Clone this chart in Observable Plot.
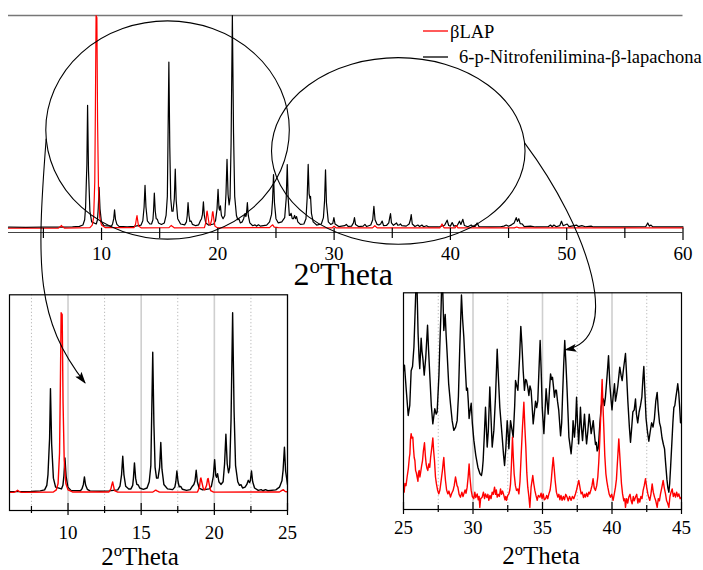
<!DOCTYPE html>
<html><head><meta charset="utf-8">
<script src="https://cdn.jsdelivr.net/npm/d3@7"></script>
<script src="https://cdn.jsdelivr.net/npm/@observablehq/plot@0.6"></script>
<style>
body{margin:0;background:#fff;}
#fig{position:relative;width:703px;height:570px;overflow:hidden;background:#fff;}
#fig svg, #fig svg text, #fig svg tspan { font-family: 'Liberation Serif', 'Times New Roman', Tinos, 'DejaVu Serif', serif !important; }
</style></head><body><div id="fig"></div>
<script>
// ---------- DATA ----------
const seriesNames = ["βLAP", "6-p-Nitrofenilimina-β-lapachona"];
const seriesColors = ["#ff0000", "#000000"];
const axisTitle = ["2", "o", "Theta"];

const mainTicks = [5,10,15,20,25,30,35,40,45,50,55,60];
const mainTickLabels = [10,20,30,40,50,60];
const leftTicks = [7.5,10,12.5,15,17.5,20,22.5,25];
const leftTickLabels = [10,15,20,25];
const rightTicks = [25,27.5,30,32.5,35,37.5,40,42.5,45];
const rightTickLabels = [25,30,35,40,45];

// full pattern, 6-p-Nitrofenilimina-β-lapachona (2θ, relative intensity %)
const blackMain = [
[2.0,0.5],[3.5,0.4],[5.0,0.5],[6.5,0.5],[7.5,0.6],[8.1,0.9],[8.4,1.5],[8.55,4],[8.63,10],[8.7,23],[8.74,30],[8.8,57.8],[8.88,27],[9.0,8],[9.15,3],
[9.55,2],[9.65,4],[9.72,9.5],[9.79,19.2],[9.87,9],[9.99,3],[10.2,1.2],
[10.85,1],[10.95,2],[11.05,4.5],[11.12,8.7],[11.2,4.2],[11.32,1.8],[11.5,0.9],[12.2,0.7],[12.8,0.9],
[13.4,1.5],[13.55,3.5],[13.66,10],[13.74,20.2],[13.82,10],[13.94,3.5],[14.15,2],
[14.3,2],[14.42,4],[14.47,8],[14.54,16.5],[14.62,8],[14.7,4.5],[14.8,4.2],[14.9,2.5],[15.15,1.8],
[15.4,2.5],[15.55,6],[15.66,15],[15.71,39],[15.79,78.1],[15.87,38],[15.95,14],[16.05,8],[16.15,8],[16.26,14],[16.34,27.8],[16.42,13],[16.55,4.5],[16.8,2],
[17.15,1.6],[17.3,3],[17.37,6],[17.44,12],[17.52,6],[17.6,3.2],[17.7,3.4],[17.82,1.8],[18.1,1.2],
[18.35,1.6],[18.5,3.5],[18.6,4.5],[18.68,6.5],[18.76,12.4],[18.84,6],[18.96,2.5],[19.2,1.5],
[19.65,2],[19.8,3.5],[19.93,9],[20.02,18.3],[20.1,9.5],[20.15,8.5],[20.22,10.5],[20.31,6],[20.45,4.5],[20.6,6],[20.7,16],[20.79,32.4],[20.88,16],[20.97,11],[21.05,14],[21.14,40],[21.25,100],[21.35,45],[21.45,15],[21.6,6],[21.72,4],[21.82,4.4],[21.93,2.5],
[22.1,3],[22.22,4.5],[22.32,6.8],[22.41,5.5],[22.46,6.5],[22.54,12],[22.62,6],[22.75,2.5],[23.0,1.2],[23.2,1.6],[23.32,1],[23.5,1.6],[23.65,1],[24.2,1.5],
[24.45,3],[24.62,6.5],[24.7,12.5],[24.79,25.2],[24.87,12],[25.0,4.5],[25.2,2.5],
[25.5,3],[25.75,5],[25.88,14],[25.97,29.9],[26.05,14],[26.15,6],[26.22,6],[26.3,7],[26.4,4.5],[26.5,4.5],[26.6,6],[26.68,4.5],[26.77,5.5],[26.88,3],[27.1,1.8],
[27.4,2],[27.58,4.5],[27.68,14],[27.77,30],[27.85,16],[27.92,14],[27.97,15],[28.05,7],[28.2,3],[28.5,1.5],
[28.9,2],[29.08,5],[29.18,13],[29.26,27.5],[29.34,12],[29.5,3],[29.7,1.8],[29.88,2.2],[29.98,5],[30.08,2],[30.4,0.8],
[30.9,1.2],[31.05,1.8],[31.2,0.9],[31.5,1],[31.66,2.5],[31.75,5],[31.84,1.8],[32.1,0.8],[32.5,1],[32.65,1.8],[32.8,0.8],
[33.15,1.5],[33.32,4],[33.42,10.3],[33.52,4],[33.7,1.8],[33.85,1.5],[34.0,2],[34.13,3.4],[34.25,1.2],[34.5,1.3],[34.7,2.5],[34.78,5],[34.85,6.9],[34.93,2.5],
[35.1,1.4],[35.25,2],[35.37,2.5],[35.47,1.4],[35.62,1.6],[35.7,2],[35.82,1.2],[36.2,1],[36.45,2],[36.56,4],[36.63,6.4],[36.72,2],[36.95,0.8],
[37.2,1.5],[37.35,0.8],[37.55,1.5],[37.7,0.7],[37.95,1.2],[38.15,0.6],[39.0,0.6],[39.5,1.4],[39.72,3.8],[39.85,1.3],[40.0,1],[40.15,2.7],[40.3,1],
[40.6,1.4],[40.78,3.3],[40.9,1.8],[41.07,4.2],[41.2,1.3],[41.5,0.7],[41.79,1.5],[41.95,0.7],[42.15,1],[42.3,2.5],[42.45,0.8],[43.5,0.6],
[44.3,0.7],[44.6,1],[44.8,1.5],[45.0,0.9],[45.25,1.6],[45.48,2.5],[45.66,5],[45.76,3.2],[45.88,4.5],[46.0,2.2],[46.17,2],[46.35,0.8],[46.9,1],[47.3,0.6],
[48.4,0.7],[48.6,1.5],[48.75,0.7],[48.9,1.5],[49.1,0.7],[49.4,1.2],[49.55,3.3],[49.7,1.2],[50.04,2],[50.2,0.8],[50.84,1.5],[51.0,0.8],[51.3,1.2],[51.6,0.7],
[52.1,1],[52.3,0.6],[54.0,0.7],[55.5,0.6],[56.8,0.8],[56.97,2.5],[57.1,1],[57.25,1.5],[57.4,0.6],[58.5,0.7],[60.0,0.6]
];

// full pattern, βLAP
const redMain = [
[2.0,0],[6.3,0.1],[6.48,0.8],[6.55,1.3],[6.62,0.8],[6.8,0.1],[9.0,0.3],[9.2,1.5],[9.32,5],[9.42,22],[9.47,55],[9.53,100],[9.6,99],[9.66,50],[9.74,18],[9.85,5],[10.0,1.5],[10.3,0.3],
[12.8,0.3],[12.93,2],[13.0,4.5],[13.05,5.9],[13.1,4],[13.18,1],[13.4,0.2],[15.8,0.3],[15.93,1],[16.0,1.3],[16.08,0.9],[16.25,0.2],
[18.85,0.3],[18.98,3],[19.05,7.5],[19.08,8.1],[19.14,6],[19.25,2],[19.35,1.5],[19.47,4],[19.54,7.5],[19.58,7.8],[19.64,5],[19.75,1],[19.95,0.2],
[24.45,0.3],[24.62,1.2],[24.72,1.6],[24.85,0.5],[25.2,0.3],[29.85,0.2],[30.0,0.9],[30.15,0.2],[33.3,0.2],[33.5,1.2],[33.7,0.2],
[39.1,0.2],[39.28,2],[39.45,0.2],[40.4,0.2],[40.52,1.2],[40.65,0.2],[45.5,0.2],[45.7,0.6],[45.9,0.2],[60.0,0.2]
];

// magnified 25–45° region (inset units 0–100)
const rightBlack = [
[25.0,64],[25.07,66.6],[25.2,55],[25.34,43.4],[25.45,48],[25.55,64],[25.65,66],[25.75,75],[25.86,96],[25.94,112],[26.0,95],[26.05,81],[26.12,70],[26.17,65],[26.27,79],[26.33,73],[26.39,70],[26.49,62],[26.6,70],[26.73,85],[26.8,74],[26.9,61],[27.0,48],[27.11,39.5],[27.25,46.5],[27.35,44],[27.42,45],[27.55,62],[27.61,75],[27.7,92],[27.78,112],[27.85,95],[27.9,82.6],[28.0,90],[28.07,80],[28.14,72],[28.25,58],[28.38,48.8],[28.5,41],[28.62,36.5],[28.75,38],[28.86,41],[28.95,52],[29.05,75],[29.17,99],[29.25,88],[29.34,79.5],[29.45,65],[29.53,55],[29.6,56],[29.66,50],[29.72,42],[29.8,46],[29.87,49],[29.95,40],[30.06,32],[30.2,25],[30.35,19.5],[30.5,16.5],[30.61,15.7],[30.67,18],[30.73,22.6],[30.82,35],[30.9,47.2],[30.96,38],[31.02,28.8],[31.1,36],[31.21,56.5],[31.28,45],[31.38,28.8],[31.5,36.5],[31.62,52],[31.74,74],[31.82,62],[31.93,47],[32.1,33.4],[32.2,25],[32.27,20.3],[32.36,28],[32.46,41],[32.52,36],[32.58,28],[32.7,41],[32.8,37],[32.89,33.4],[33.0,48],[33.06,59.5],[33.15,57],[33.23,55],[33.35,70],[33.44,84.5],[33.52,76],[33.61,64],[33.7,55],[33.78,60],[33.85,59.5],[33.95,56],[34.02,52.6],[34.1,57],[34.18,55],[34.25,48],[34.33,39.5],[34.42,45],[34.5,50],[34.58,47],[34.66,50],[34.75,65],[34.83,78],[34.9,65],[34.98,47],[35.1,35],[35.18,45],[35.26,55.7],[35.33,50],[35.41,44],[35.5,55],[35.58,62.6],[35.65,60],[35.72,61],[35.8,56],[35.86,51.8],[35.93,55],[36.0,55],[36.08,50],[36.17,45.7],[36.3,34],[36.38,40],[36.44,51.8],[36.52,66],[36.6,78],[36.68,68],[36.77,55],[36.85,42],[36.9,33.4],[37.06,25.7],[37.15,33],[37.2,41],[37.3,33.4],[37.38,40],[37.45,51.8],[37.52,40],[37.6,30.3],[37.68,40],[37.73,47.2],[37.8,38],[37.88,31.8],[37.95,38],[38.02,44],[38.1,36],[38.17,30.3],[38.26,36],[38.36,44],[38.43,40],[38.5,35],[38.58,38],[38.65,41],[38.73,35],[38.81,30],[38.87,31],[38.93,27],[39.0,28],[39.05,31.8],[39.13,40],[39.22,47.2],[39.3,50],[39.37,51],[39.45,48],[39.53,52],[39.65,62],[39.75,71],[39.84,58],[39.94,50],[40.0,46],[40.08,52],[40.18,58],[40.25,50],[40.33,53],[40.42,57],[40.5,62],[40.56,65.7],[40.65,62],[40.73,59.5],[40.85,66],[40.97,72],[41.05,62],[41.14,50],[41.25,38],[41.33,31],[41.42,38],[41.5,45],[41.6,46],[41.69,51],[41.76,44],[41.85,40],[41.95,45],[42.05,48],[42.15,52],[42.22,60],[42.29,66],[42.36,55],[42.45,42],[42.55,36],[42.65,31.5],[42.75,36],[42.85,40],[42.95,38],[43.05,42],[43.15,50],[43.25,54],[43.33,46],[43.42,40],[43.5,38],[43.6,33],[43.7,30],[43.78,28],[43.85,22],[43.95,14],[44.02,10],[44.09,8],[44.15,12],[44.22,20],[44.3,30],[44.38,40],[44.45,47],[44.52,48],[44.6,52],[44.67,55],[44.73,58],[44.8,54],[44.87,47],[44.93,40],[45.0,41]
];
const rightRed = [
[25.0,10.3],[25.05,8],[25.1,12],[25.18,11],[25.26,15],[25.35,19],[25.42,24],[25.46,25.7],[25.5,32],[25.55,35],[25.6,33],[25.67,33.4],[25.72,28],[25.77,24],[25.82,22.6],[25.87,18],[25.92,17],[25.98,15],[26.04,13],[26.08,17],[26.13,18],[26.18,15],[26.22,16.5],[26.3,20],[26.37,22.6],[26.43,27],[26.51,30.8],[26.57,25],[26.63,21],[26.69,19],[26.75,18],[26.82,21],[26.89,19.5],[26.95,24],[27.01,27.2],[27.06,30],[27.11,33],[27.17,27],[27.23,22.6],[27.3,15],[27.37,11.8],[27.45,9],[27.54,7.2],[27.62,9],[27.71,13.4],[27.8,18],[27.86,22],[27.9,24],[27.96,18],[28.02,13.4],[28.1,9],[28.19,7.2],[28.27,8.5],[28.38,5.7],[28.47,7.5],[28.57,8.8],[28.65,11],[28.74,15],[28.8,13],[28.85,11],[28.91,10.3],[29.0,7],[29.1,5.7],[29.2,8],[29.28,6],[29.34,7.2],[29.43,9],[29.5,7.5],[29.58,10.3],[29.65,15],[29.72,21],[29.78,15],[29.87,8.8],[29.95,6],[30.06,5],[30.13,8],[30.2,5.5],[30.3,7.2],[30.38,4.5],[30.44,6],[30.49,1],[30.55,5],[30.66,5.7],[30.75,8],[30.83,5],[30.9,7.2],[31.0,5.5],[31.07,7],[31.14,4.2],[31.22,6.5],[31.3,5],[31.38,8],[31.46,7],[31.55,10.3],[31.62,7],[31.68,9],[31.74,5.7],[31.82,7],[31.9,6],[31.98,9.5],[32.05,7],[32.13,8.5],[32.22,6.5],[32.3,4.5],[32.36,6],[32.41,4.2],[32.5,6.5],[32.58,7.2],[32.65,9],[32.7,11.8],[32.76,20],[32.84,33.4],[32.9,24],[32.96,16.5],[33.05,11],[33.13,8.8],[33.22,9.5],[33.3,7.2],[33.38,13],[33.47,25.7],[33.56,38],[33.66,49.5],[33.73,38],[33.8,28.8],[33.87,17],[33.94,10.3],[34.02,6],[34.09,1],[34.14,6],[34.18,10.3],[34.24,13],[34.3,15.7],[34.37,12],[34.45,8.8],[34.53,6.5],[34.62,4.2],[34.7,6.5],[34.81,5.7],[34.9,7.5],[34.97,5],[35.05,7.2],[35.13,4.5],[35.22,5],[35.3,6.5],[35.38,5],[35.46,7.2],[35.55,9],[35.63,13.4],[35.7,19],[35.77,24],[35.84,19],[35.91,13.4],[36.0,8],[36.1,5.7],[36.18,7],[36.25,4.5],[36.33,6.5],[36.41,4.2],[36.5,6],[36.58,4.5],[36.67,7],[36.77,5.7],[36.85,4],[36.95,6],[37.06,4.2],[37.15,6],[37.25,5],[37.37,7.2],[37.45,9],[37.52,11],[37.61,13.4],[37.7,10],[37.78,7.2],[37.86,8],[37.95,5.5],[38.03,7],[38.09,5.7],[38.17,7.5],[38.25,6],[38.33,8],[38.4,7.2],[38.48,9],[38.56,11],[38.64,14.2],[38.72,10],[38.81,8.8],[38.9,11],[38.98,15],[39.05,22],[39.12,31.8],[39.2,45],[39.29,60],[39.35,48],[39.41,38],[39.48,25],[39.56,16.5],[39.63,13],[39.7,10.3],[39.8,7],[39.89,5.7],[39.98,7],[40.08,4.2],[40.16,7],[40.25,10.3],[40.32,14],[40.37,19.5],[40.43,26],[40.49,32.6],[40.55,26],[40.61,19.5],[40.68,12],[40.76,7.2],[40.85,4],[40.92,5],[40.97,1],[41.05,5],[41.13,3],[41.21,5.7],[41.3,7],[41.38,4],[41.45,2.6],[41.53,6],[41.6,4],[41.69,5.7],[41.78,7],[41.86,3],[41.93,5],[42.0,3.4],[42.08,6],[42.16,5],[42.24,8.8],[42.32,11],[42.41,14.2],[42.5,10],[42.58,7.2],[42.65,5.5],[42.72,4.2],[42.8,7],[42.89,11.8],[42.97,8],[43.06,5.7],[43.15,4],[43.25,1],[43.33,5],[43.41,4],[43.49,7.2],[43.58,10],[43.68,13.4],[43.76,10],[43.85,7.2],[43.93,4],[44.0,3],[44.09,1],[44.17,6],[44.25,8],[44.33,9.5],[44.41,6],[44.49,7.5],[44.57,5.7],[44.65,8],[44.73,6],[44.81,7.2],[44.9,5],[45.0,5.7]
];

// highlighted zones on the full pattern: centre 2θ, centre intensity, half-widths
const zoneCx = [15.72, 35.56];
const zoneCy = [45.95, 36.1];
const zoneRx = [10.47, 10.9];
const zoneRy = [51.3, 43.85];
// arrow targets inside the insets (2θ, inset intensity)
const arrowTarget1 = [11.2, 60.7];
const arrowTarget2 = [36.68, 73.5];

// ---------- DRAWING ----------
const FONT = "'Liberation Serif', 'Times New Roman', Tinos, 'DejaVu Serif', serif";
const fig = document.getElementById("fig");
const X = d => d[0], Y = d => d[1];
const baseStyle = {fontFamily: FONT, fontSize: "19px", background: "transparent", color: "#000", overflow: "visible"};

function place(el, left, top) {
  el.style.position = "absolute"; el.style.left = left + "px"; el.style.top = top + "px"; el.style.margin = "0";
  fig.appendChild(el); return el;
}

// main panel
const mainPlot = Plot.plot({
  width: 703, height: 270, marginLeft: 8, marginRight: 20.5, marginTop: 15, marginBottom: 38,
  style: baseStyle,
  x: {domain: [2, 60], axis: null},
  y: {domain: [-2, 100], axis: null},
  marks: [
    Plot.ruleY([100], {stroke: "#777", strokeWidth: 1.4}),
    Plot.line(blackMain, {x: X, y: Y, stroke: seriesColors[1], strokeWidth: 1.2}),
    Plot.line(redMain, {x: X, y: Y, stroke: seriesColors[0], strokeWidth: 1.2}),
    Plot.ruleY([-2], {stroke: "#444", strokeWidth: 1.2}),
    Plot.ruleX(mainTicks, {x: d => d, y1: 0, y2: d => -2 - (d % 10 === 0 ? 8 : 6) / 2.1275, stroke: "#000", strokeWidth: 1.2}),
    Plot.axisX(mainTickLabels, {tickSize: 0, tickPadding: 13.5, label: null, fontSize: 19, fontFamily: FONT, tickFormat: d => String(d)})
  ]
});
place(mainPlot, 0, 0);

// left inset
const leftPlot = Plot.plot({
  width: 300, height: 270, marginLeft: 9, marginRight: 13, marginTop: 14.3, marginBottom: 40,
  style: baseStyle,
  x: {domain: [6, 25], axis: null},
  y: {domain: [-10, 110], axis: null},
  marks: [
    Plot.ruleX(leftTicks.filter(d => d % 5 === 0), {stroke: "#cfcfcf", strokeWidth: 1.6}),
    Plot.ruleX(leftTicks.filter(d => d % 5 !== 0), {stroke: "#a8a8a8", strokeDasharray: "1,2.5"}),
    Plot.line(blackMain, {x: X, y: Y, stroke: seriesColors[1], strokeWidth: 1.4, clip: true}),
    Plot.line(redMain, {x: X, y: Y, stroke: seriesColors[0], strokeWidth: 1.4, clip: true}),
    Plot.frame({stroke: "#000", strokeWidth: 1.2}),
    Plot.ruleX(leftTicks, {x: d => d, y1: d => -10 + (d % 5 === 0 ? 7 : 4) / 1.7975, y2: d => -10 - (d % 5 === 0 ? 5 : 3) / 1.7975, stroke: "#000", strokeWidth: 1.2}),
    Plot.axisX(leftTickLabels, {tickSize: 0, tickPadding: 15, label: null, fontSize: 19, fontFamily: FONT, tickFormat: d => String(d)})
  ]
});
place(leftPlot, 0, 280);

// right inset
const rightPlot = Plot.plot({
  width: 310, height: 270, marginLeft: 13, marginRight: 19, marginTop: 14.3, marginBottom: 39,
  style: baseStyle,
  x: {domain: [25, 45], axis: null},
  y: {domain: [0, 100], axis: null},
  marks: [
    Plot.ruleX(rightTicks.filter(d => d % 5 === 0 && d > 25 && d < 45), {stroke: "#cfcfcf", strokeWidth: 1.6}),
    Plot.ruleX(rightTicks.filter(d => d % 5 !== 0), {stroke: "#a8a8a8", strokeDasharray: "1,2.5"}),
    Plot.line(rightBlack, {x: X, y: Y, stroke: seriesColors[1], strokeWidth: 1.4, clip: true}),
    Plot.line(rightRed, {x: X, y: Y, stroke: seriesColors[0], strokeWidth: 1.4, clip: true}),
    Plot.frame({stroke: "#000", strokeWidth: 1.2}),
    Plot.ruleX(rightTicks, {x: d => d, y1: d => (d % 5 === 0 ? 7 : 4) / 2.167, y2: d => -(d % 5 === 0 ? 5 : 3) / 2.167, stroke: "#000", strokeWidth: 1.2}),
    Plot.axisX(rightTickLabels, {tickSize: 0, tickPadding: 11, label: null, fontSize: 19, fontFamily: FONT, tickFormat: d => String(d)})
  ]
});
place(rightPlot, 390, 278);

// overlay: zones, arrows, legend, axis titles
const ov = d3.select(fig).append("svg").attr("width", 703).attr("height", 570)
  .style("position", "absolute").style("left", "0px").style("top", "0px").style("pointer-events", "none")
  .attr("font-family", FONT);
const mX = v => mainPlot.scale("x").apply(v), mY = v => mainPlot.scale("y").apply(v);
const lX = v => leftPlot.scale("x").apply(v) + 0, lY = v => leftPlot.scale("y").apply(v) + 280;
const rX = v => rightPlot.scale("x").apply(v) + 390, rY = v => rightPlot.scale("y").apply(v) + 278;

ov.append("defs").append("marker").attr("id", "ah").attr("viewBox", "0 0 12 8")
  .attr("refX", 11).attr("refY", 4).attr("markerWidth", 12).attr("markerHeight", 8)
  .attr("markerUnits", "userSpaceOnUse").attr("orient", "auto")
  .append("path").attr("d", "M0,0 L12,4 L0,8 L2.5,4 Z").attr("fill", "#000");

const zones = zoneCx.map((cx, i) => {
  const x = mX(cx), y = mY(zoneCy[i]);
  return {cx: x, cy: y, rx: mX(cx + zoneRx[i]) - x, ry: mY(zoneCy[i] - zoneRy[i]) - y};
});
zones.forEach(z => ov.append("ellipse").attr("cx", z.cx).attr("cy", z.cy).attr("rx", z.rx).attr("ry", z.ry)
  .attr("fill", "none").attr("stroke", "#000").attr("stroke-width", 1.1));

// arrow 1: from left side of zone 1 down to left inset
{
  const z = zones[0], a = 0.08;
  const s = [z.cx - z.rx * Math.cos(a), z.cy + z.ry * Math.sin(a)];
  const e = [lX(arrowTarget1[0]), lY(arrowTarget1[1])];
  ov.append("path").attr("d", `M${s[0]},${s[1]} C${s[0]-10},${s[1]+130} ${e[0]-49},${e[1]-63} ${e[0]},${e[1]}`)
    .attr("fill", "none").attr("stroke", "#000").attr("stroke-width", 1.1).attr("marker-end", "url(#ah)");
}
// arrow 2: from right side of zone 2 down to right inset
{
  const z = zones[1], a = -0.086;
  const s = [z.cx + z.rx * Math.cos(a), z.cy + z.ry * Math.sin(a)];
  const e = [rX(arrowTarget2[0]), rY(arrowTarget2[1])];
  ov.append("path").attr("d", `M${s[0]},${s[1]} C${s[0]+65},${s[1]+87} ${e[0]+59},${e[1]-10} ${e[0]},${e[1]}`)
    .attr("fill", "none").attr("stroke", "#000").attr("stroke-width", 1.1).attr("marker-end", "url(#ah)");
}

// legend
const leg = [{y: 31, ty: 38, tx: 450}, {y: 57, ty: 63, tx: 459}];
seriesNames.forEach((name, i) => {
  ov.append("line").attr("x1", 423).attr("x2", 448).attr("y1", leg[i].y).attr("y2", leg[i].y)
    .attr("stroke", seriesColors[i]).attr("stroke-width", 1.3);
  ov.append("text").attr("x", leg[i].tx).attr("y", leg[i].ty).attr("font-size", 18.5).attr("font-family", FONT).attr("fill", "#000").text(name);
});

// axis titles 2°Theta
function title(x, y, size) {
  const t = ov.append("text").attr("x", x).attr("y", y).attr("text-anchor", "middle").attr("font-size", size)
    .attr("font-family", FONT).attr("fill", "#000");
  t.append("tspan").text(axisTitle[0]);
  t.append("tspan").attr("dy", -0.38 * size).attr("font-size", 0.66 * size).text(axisTitle[1]);
  t.append("tspan").attr("dy", 0.38 * size).text(axisTitle[2]);
}
title((mX(2) + mX(60)) / 2 - 2, 285, 32);
title(140, 565, 25);
title(541, 564, 25);
</script>
</body></html>
